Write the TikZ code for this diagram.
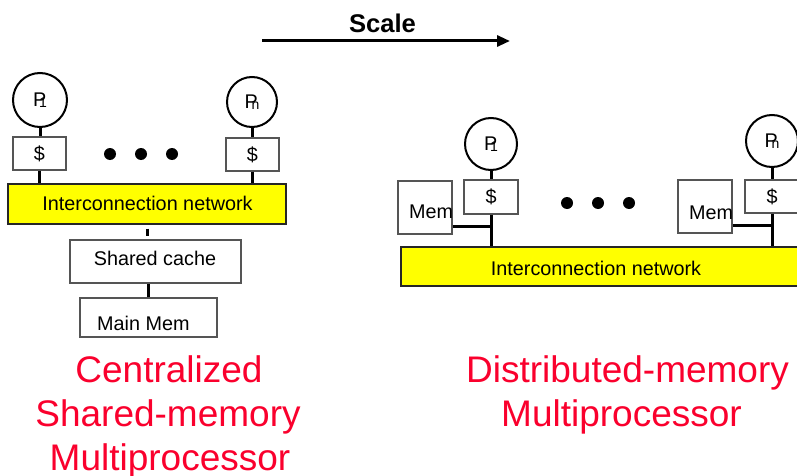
\documentclass[tikz,border=0pt]{standalone}
\usepackage{fontspec}
\setmainfont{Liberation Sans}
\usetikzlibrary{arrows.meta}
\definecolor{netyellow}{RGB}{255,255,0}
\definecolor{boxgray}{RGB}{85,85,85}
\definecolor{titlered}{RGB}{250,0,45}
% processor label: P with an overlapping index
\newcommand\proclbl[2]{P\kern#2\raisebox{-1.5pt}{\fontsize{14}{14}\selectfont #1}}

\begin{document}
\begin{tikzpicture}[x=1pt,y=-1pt,
  lbl/.style={font=\fontsize{19.8}{24}\selectfont, inner sep=0pt},
  proc/.style={circle, draw=black, line width=2pt, inner sep=0pt, font=\fontsize{19.8}{24}\selectfont},
  cachebox/.style={draw=boxgray, line width=1.2pt, fill=white, inner sep=0pt,
    minimum width=54pt, minimum height=34pt, font=\fontsize{19.8}{24}\selectfont},
  membox/.style={draw=boxgray, line width=1.2pt, fill=white, inner sep=0pt,
    minimum width=54pt, minimum height=53pt},
  netbox/.style={draw=black!85, line width=1.2pt, fill=netyellow, inner sep=0pt, minimum height=40pt},
  plainbox/.style={draw=boxgray, line width=1.2pt, fill=white, inner sep=0pt},
  wire/.style={line width=3pt, black},
  dot/.style={circle, fill=black, inner sep=0pt, minimum size=12pt},
  title/.style={font=\fontsize{37}{44}\selectfont, text=titlered, inner sep=0pt, anchor=base}
]
\clip (0,0) rectangle (797,476);
\fill[white] (0,0) rectangle (797,476);

% ---------- Scale arrow ----------
\node[font=\fontsize{25.6}{30}\selectfont\bfseries, inner sep=0pt, anchor=base] (scale) at (382.5,33) {Scale};
\coordinate (sa) at (262,41);
\coordinate (sb) at (510,41);
\draw[line width=3pt, -{Triangle[length=13pt,width=11pt]}] (sa) -- (sb);

% ---------- Centralized shared-memory multiprocessor ----------
\node[netbox, minimum width=278pt] (netL) at (147,204) {};
\node[lbl, anchor=base] (netLt) at (147.5,210) {Interconnection network};

\node[proc, minimum size=54pt] (p1L) at (40,100) {\proclbl{1}{-7.3pt}};
\node[proc, minimum size=50pt] (pnL) at (252,102) {\proclbl{n}{-6.4pt}};
\node[cachebox, minimum width=53pt, minimum height=33pt] (c1L) at (39.5,153.5) {\$};
\node[cachebox, minimum width=53pt, minimum height=33pt] (cnL) at (252.5,154.5) {\$};

\node[dot] (d1L) at (110,154) {};
\node[dot] (d2L) at (141,154) {};
\node[dot] (d3L) at (172,154) {};

\node[plainbox, minimum width=171pt, minimum height=43pt] (shc) at (155.5,261.5) {};
\node[lbl, anchor=base] (shct) at (155,265) {Shared cache};
\node[plainbox, minimum width=137pt, minimum height=39pt] (mm) at (148.5,317.5) {};
\node[lbl, anchor=base west] (mmt) at (97,330) {Main Mem};

\draw[wire] (p1L.south) -- (p1L.south |- c1L.north);
\draw[wire] (c1L.south) -- (c1L.south |- netL.north);
\draw[wire] (pnL.south) -- (pnL.south |- cnL.north);
\draw[wire] (cnL.south) -- (cnL.south |- netL.north);
\draw[wire] ([yshift=-4pt]netL.south) -- ([yshift=3pt]netL.south |- shc.north);
\draw[wire] (mm.north) -- (mm.north |- shc.south);

\node[title] (tL1) at (169,382) {Centralized};
\node[title] (tL2) at (168,426.5) {Shared-memory};
\node[title] (tL3) at (170,470) {Multiprocessor};

% ---------- Distributed-memory multiprocessor ----------
\node[netbox, minimum width=420pt, minimum height=39pt] (netR) at (611,266.5) {};
\node[lbl, anchor=base] (netRt) at (596,275.5) {Interconnection network};

\node[proc, minimum size=52pt] (p1R) at (491,144) {\proclbl{1}{-7.3pt}};
\node[cachebox] (c1R) at (491,197) {\$};
\node[membox] (m1R) at (425,207.5) {};
\node[lbl, anchor=base west] (m1Rt) at (409,218.5) {Mem};

\node[proc, minimum size=52pt] (pnR) at (772,141) {\proclbl{n}{-6.4pt}};
\node[cachebox, minimum height=33pt] (cnR) at (772,196.5) {\$};
\node[membox] (mnR) at (705,206.5) {};
\node[lbl, anchor=base west] (mnRt) at (689,219) {Mem};

\node[dot] (d1R) at (567,203) {};
\node[dot] (d2R) at (598,203) {};
\node[dot] (d3R) at (629,203) {};

\coordinate (j1) at (491,226);
\coordinate (jn) at (772,225);
\draw[wire] (p1R.south) -- (p1R.south |- c1R.north);
\draw[wire] (c1R.south) -- (c1R.south |- netR.north);
\draw[wire] (j1 -| m1R.east) -- (j1);
\draw[wire] (pnR.south) -- (pnR.south |- cnR.north);
\draw[wire] (cnR.south) -- (cnR.south |- netR.north);
\draw[wire] (jn -| mnR.east) -- (jn);

\node[title] (tR1) at (627.5,382) {Distributed-memory};
\node[title] (tR2) at (621.5,426) {Multiprocessor};
\end{tikzpicture}
\end{document}
